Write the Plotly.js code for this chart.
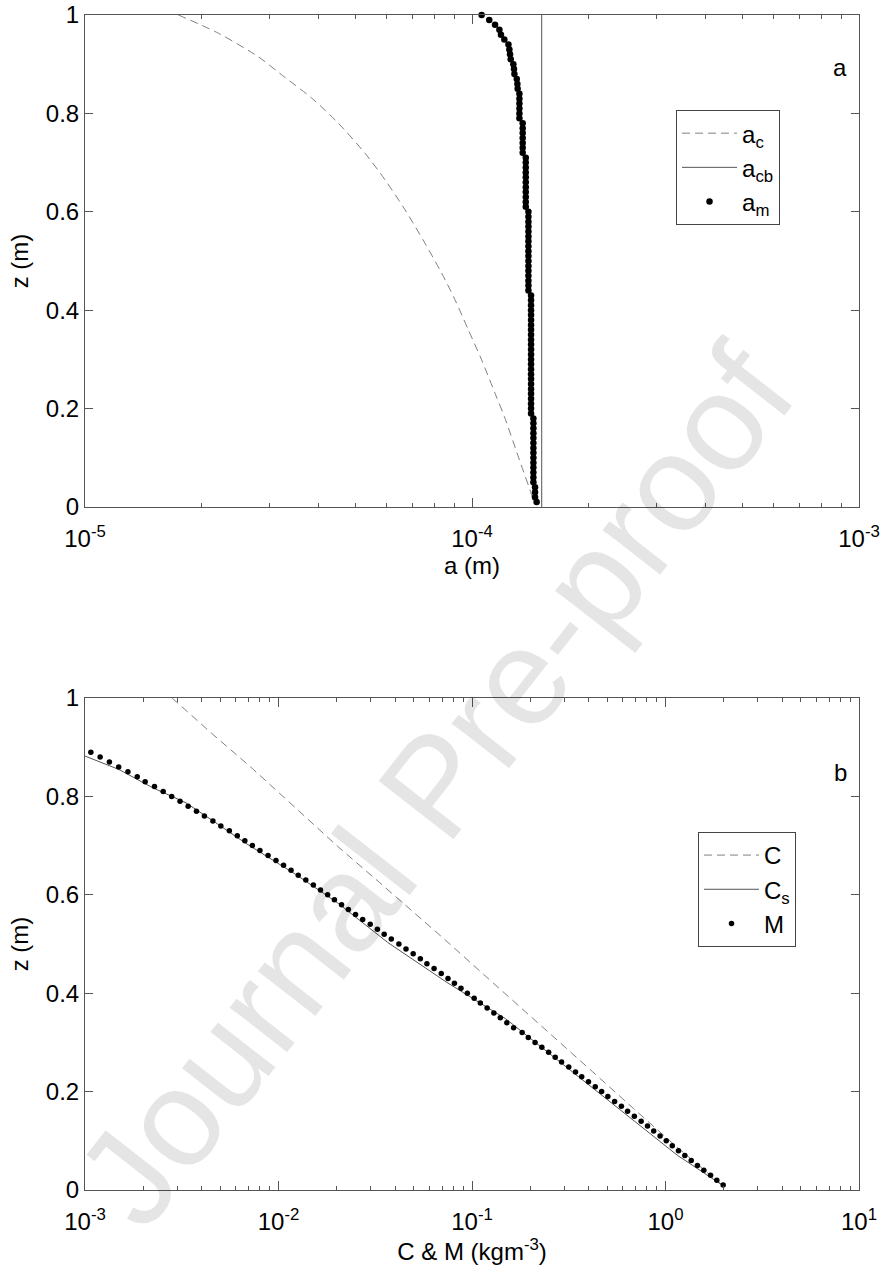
<!DOCTYPE html>
<html>
<head>
<meta charset="utf-8">
<script src="https://cdn.plot.ly/plotly-3.0.1.min.js"></script>
<style>html,body{margin:0;padding:0;background:#fff;}#chart{width:887px;height:1277px;}</style>
</head>
<body>
<div id="chart"></div>
<script>
// ---------- Panel a : grain size a (m) vs height z (m) ----------
const zAc = [1.0, 0.963, 0.915, 0.881, 0.831, 0.780, 0.719, 0.665, 0.604, 0.536, 0.475, 0.421, 0.360, 0.299, 0.231, 0.184, 0.10, 0.024, 0.01];
const aC  = [1.742e-5, 2.211e-5, 2.805e-5, 3.19e-5, 3.853e-5, 4.515e-5, 5.291e-5, 5.960e-5, 6.713e-5, 7.560e-5, 8.351e-5, 9.040e-5, 9.784e-5, 1.059e-4, 1.147e-4, 1.212e-4, 1.320e-4, 1.426e-4, 1.439e-4];

const zAcb = [0, 1];
const aCb  = [1.514e-4, 1.514e-4];

const zAm = [0.01,0.02,0.03,0.04,0.05,0.06,0.07,0.08,0.09,0.10,
             0.11,0.12,0.13,0.14,0.15,0.16,0.17,0.18,0.19,0.20,
             0.21,0.22,0.23,0.24,0.25,0.26,0.27,0.28,0.29,0.30,
             0.31,0.32,0.33,0.34,0.35,0.36,0.37,0.38,0.39,0.40,
             0.41,0.42,0.43,0.44,0.45,0.46,0.47,0.48,0.49,0.50,
             0.51,0.52,0.53,0.54,0.55,0.56,0.57,0.58,0.59,0.60,
             0.61,0.62,0.63,0.64,0.65,0.66,0.67,0.68,0.69,0.70,
             0.71,0.72,0.73,0.74,0.75,0.76,0.77,0.78,0.79,0.80,
             0.81,0.82,0.83,0.84,0.85,0.86,0.87,0.88,0.89,0.90,
             0.91,0.92,0.93,0.94,0.95,0.96,0.97,0.98,0.99,1.00];
const aM  = [1.469e-4,1.455e-4,1.455e-4,1.455e-4,1.441e-4,1.441e-4,1.441e-4,1.441e-4,1.441e-4,1.441e-4,
             1.441e-4,1.441e-4,1.441e-4,1.441e-4,1.441e-4,1.441e-4,1.441e-4,1.441e-4,1.421e-4,1.421e-4,
             1.421e-4,1.421e-4,1.421e-4,1.421e-4,1.421e-4,1.421e-4,1.421e-4,1.421e-4,1.421e-4,1.421e-4,
             1.421e-4,1.421e-4,1.421e-4,1.421e-4,1.421e-4,1.421e-4,1.421e-4,1.421e-4,1.421e-4,1.421e-4,
             1.421e-4,1.421e-4,1.421e-4,1.399e-4,1.399e-4,1.399e-4,1.399e-4,1.399e-4,1.399e-4,1.399e-4,
             1.399e-4,1.399e-4,1.399e-4,1.399e-4,1.399e-4,1.399e-4,1.399e-4,1.399e-4,1.399e-4,1.399e-4,
             1.377e-4,1.377e-4,1.377e-4,1.377e-4,1.377e-4,1.377e-4,1.377e-4,1.377e-4,1.377e-4,1.377e-4,
             1.377e-4,1.352e-4,1.352e-4,1.352e-4,1.352e-4,1.352e-4,1.352e-4,1.352e-4,1.326e-4,1.326e-4,
             1.326e-4,1.326e-4,1.326e-4,1.326e-4,1.312e-4,1.310e-4,1.305e-4,1.287e-4,1.284e-4,1.279e-4,
             1.259e-4,1.254e-4,1.249e-4,1.242e-4,1.212e-4,1.188e-4,1.177e-4,1.147e-4,1.108e-4,1.059e-4];

// ---------- Panel b : concentration C & M (kg m^-3) vs height z (m) ----------
const zC = [1.0, 0.929, 0.855, 0.777, 0.699, 0.625, 0.513, 0.409, 0.348, 0.240, 0.165, 0.091, 0.010];
const cC = [2.82e-3, 4.49e-3, 7.41e-3, 1.222e-2, 2.014e-2, 3.327e-2, 7.05e-2, 0.139, 0.208, 0.421, 0.686, 1.117, 1.963];

const zCs = [0.882, 0.855, 0.818, 0.787, 0.747, 0.706, 0.642, 0.584, 0.503, 0.422, 0.348, 0.280, 0.213, 0.138, 0.071, 0.010];
const cS  = [1.0e-3, 1.493e-3, 2.228e-3, 3.327e-3, 4.721e-3, 6.699e-3, 1.222e-2, 2.014e-2, 3.673e-2, 7.413e-2, 0.1493, 0.2460, 0.4064, 0.708, 1.148, 1.963];

const zM = [0.89,0.88,0.87,0.86,0.85,0.84,0.83,0.82,0.81,0.80,
            0.79,0.78,0.77,0.76,0.75,0.74,0.73,0.72,0.71,0.70,
            0.69,0.68,0.67,0.66,0.65,0.64,0.63,0.62,0.61,0.60,
            0.59,0.58,0.57,0.56,0.55,0.54,0.53,0.52,0.51,0.50,
            0.49,0.48,0.47,0.46,0.45,0.44,0.43,0.42,0.41,0.40,
            0.39,0.38,0.37,0.36,0.35,0.34,0.33,0.32,0.31,0.30,
            0.29,0.28,0.27,0.26,0.25,0.24,0.23,0.22,0.21,0.20,
            0.19,0.18,0.17,0.16,0.15,0.14,0.13,0.12,0.11,0.10,
            0.09,0.08,0.07,0.06,0.05,0.04,0.03,0.02,0.01];
const mM = [1.072e-3,1.197e-3,1.337e-3,1.493e-3,1.667e-3,1.862e-3,2.046e-3,2.286e-3,2.535e-3,2.805e-3,
            3.097e-3,3.412e-3,3.767e-3,4.140e-3,4.581e-3,5.035e-3,5.572e-3,6.124e-3,6.699e-3,7.328e-3,
            8.017e-3,8.831e-3,9.705e-3,1.062e-2,1.161e-2,1.265e-2,1.384e-2,1.514e-2,1.648e-2,1.795e-2,
            1.945e-2,2.118e-2,2.296e-2,2.500e-2,2.723e-2,2.979e-2,3.243e-2,3.516e-2,3.828e-2,4.188e-2,
            4.560e-2,4.966e-2,5.408e-2,5.848e-2,6.368e-2,6.934e-2,7.516e-2,8.110e-2,8.770e-2,9.462e-2,
            0.1026,0.1104,0.1197,0.1297,0.1400,0.1514,0.1641,0.1816,0.1954,0.2118,
            0.2296,0.2489,0.2692,0.2904,0.3162,0.3428,0.3690,0.3999,0.4335,0.4677,
            0.5035,0.5458,0.5916,0.6368,0.6902,0.7482,0.8072,0.8690,0.9376,1.009,
            1.084,1.167,1.259,1.358,1.462,1.578,1.710,1.841,1.986];

// ---------- Tick labels ----------
const yTickVals = [0, 0.2, 0.4, 0.6, 0.8, 1];
const yTickText = ['0', '0.2', '0.4', '0.6', '0.8', '1'];
const xTopTickVals = [1e-5, 1e-4, 1e-3];
const xTopTickText = ['10<sup>-5</sup>', '10<sup>-4</sup>', '10<sup>-3</sup>'];
const xTopMinor = [2e-5,3e-5,4e-5,5e-5,6e-5,7e-5,8e-5,9e-5,2e-4,3e-4,4e-4,5e-4,6e-4,7e-4,8e-4,9e-4];
const xBotTickVals = [1e-3, 1e-2, 1e-1, 1, 10];
const xBotTickText = ['10<sup>-3</sup>', '10<sup>-2</sup>', '10<sup>-1</sup>', '10<sup>0</sup>', '10<sup>1</sup>'];
const xBotMinor = [2e-3,3e-3,4e-3,5e-3,6e-3,7e-3,8e-3,9e-3,2e-2,3e-2,4e-2,5e-2,6e-2,7e-2,8e-2,9e-2,
                   0.2,0.3,0.4,0.5,0.6,0.7,0.8,0.9,2,3,4,5,6,7,8,9];

const FONT = 'Liberation Sans, Arial, Helvetica, sans-serif';
const AX = '#555555';
const FS = 24;

const traces = [
  {x: aC, y: zAc, type: 'scatter', mode: 'lines', name: 'a<sub>c</sub>',
   line: {color: '#808080', width: 1, dash: '8px,5px', shape: 'spline', smoothing: 0.8}, xaxis: 'x', yaxis: 'y', legend: 'legend'},
  {x: aCb, y: zAcb, type: 'scatter', mode: 'lines', name: 'a<sub>cb</sub>',
   line: {color: '#555555', width: 1}, xaxis: 'x', yaxis: 'y', legend: 'legend'},
  {x: aM, y: zAm, type: 'scatter', mode: 'markers', name: 'a<sub>m</sub>', cliponaxis: false,
   marker: {color: '#000000', size: 6.5, symbol: 'circle'}, xaxis: 'x', yaxis: 'y', legend: 'legend'},
  {x: cC, y: zC, type: 'scatter', mode: 'lines', name: 'C',
   line: {color: '#808080', width: 1, dash: '8px,5px'}, xaxis: 'x2', yaxis: 'y2', legend: 'legend2'},
  {x: cS, y: zCs, type: 'scatter', mode: 'lines', name: 'C<sub>s</sub>',
   line: {color: '#555555', width: 1}, xaxis: 'x2', yaxis: 'y2', legend: 'legend2'},
  {x: mM, y: zM, type: 'scatter', mode: 'markers', name: 'M', cliponaxis: false,
   marker: {color: '#000000', size: 5.5, symbol: 'circle'}, xaxis: 'x2', yaxis: 'y2', legend: 'legend2'}
];

function xAxis(range, tv, tt, minor, title, anchor) {
  return {
    type: 'log', range: range, anchor: anchor, domain: [0, 1],
    tickmode: 'array', tickvals: tv, ticktext: tt,
    ticks: 'inside', ticklen: 9, tickwidth: 1, tickcolor: AX,
    ticklabelstandoff: 10,
    minor: {tickmode: 'array', tickvals: minor, ticks: 'inside', ticklen: 4, tickwidth: 1, tickcolor: AX, showgrid: false},
    showline: true, linecolor: AX, linewidth: 1, mirror: 'ticks',
    showgrid: false, zeroline: false,
    tickfont: {family: FONT, size: FS, color: '#000'},
    title: {text: title, font: {family: FONT, size: FS, color: '#000'}, standoff: 6},
    automargin: false
  };
}
function yAxis(domain, anchor) {
  return {
    range: [0, 1], domain: domain, anchor: anchor,
    tickmode: 'array', tickvals: yTickVals, ticktext: yTickText,
    ticks: 'inside', ticklen: 8, tickwidth: 1, tickcolor: AX,
    showline: true, linecolor: AX, linewidth: 1, mirror: 'ticks',
    showgrid: false, zeroline: false,
    tickfont: {family: FONT, size: FS, color: '#000'},
    title: {text: 'z (m)', font: {family: FONT, size: FS, color: '#000'}, standoff: 10},
    automargin: false
  };
}

const legendBase = {
  xanchor: 'left', yanchor: 'top', bgcolor: '#ffffff',
  bordercolor: '#444444', borderwidth: 1,
  font: {family: FONT, size: FS, color: '#000'},
  tracegroupgap: 0, itemwidth: 55
};

const layout = {
  width: 887, height: 1277,
  margin: {l: 85, r: 28, t: 15, b: 87},
  paper_bgcolor: '#ffffff', plot_bgcolor: '#ffffff',
  font: {family: FONT, color: '#000'},
  showlegend: true,
  xaxis: xAxis([-5, -3], xTopTickVals, xTopTickText, xTopMinor, 'a (m)', 'y'),
  yaxis: yAxis([0.5813, 1], 'x'),
  xaxis2: xAxis([-3, 1], xBotTickVals, xBotTickText, xBotMinor, 'C &amp; M (kgm<sup>-3</sup>)', 'y2'),
  yaxis2: yAxis([0, 0.4187], 'x2'),
  legend: Object.assign({x: 0.7636, y: 0.9191}, legendBase),
  legend2: Object.assign({x: 0.792, y: 0.3047}, legendBase),
  annotations: [
    {text: 'a', xref: 'paper', yref: 'paper', x: 0.9755, y: 0.955, xanchor: 'center', yanchor: 'middle', showarrow: false,
     font: {family: FONT, size: FS, color: '#000'}},
    {text: 'b', xref: 'paper', yref: 'paper', x: 0.9755, y: 0.3557, xanchor: 'center', yanchor: 'middle', showarrow: false,
     font: {family: FONT, size: FS, color: '#000'}},
    {text: 'Journal Pre-proof', xref: 'paper', yref: 'paper', x: 0.452, y: 0.345, xanchor: 'center', yanchor: 'middle', showarrow: false,
     textangle: -52, font: {family: FONT, size: 138, color: 'rgba(0,0,0,0.1)'}}
  ]
};

Plotly.newPlot('chart', traces, layout, {staticPlot: true, displayModeBar: false});
</script>
</body>
</html>
